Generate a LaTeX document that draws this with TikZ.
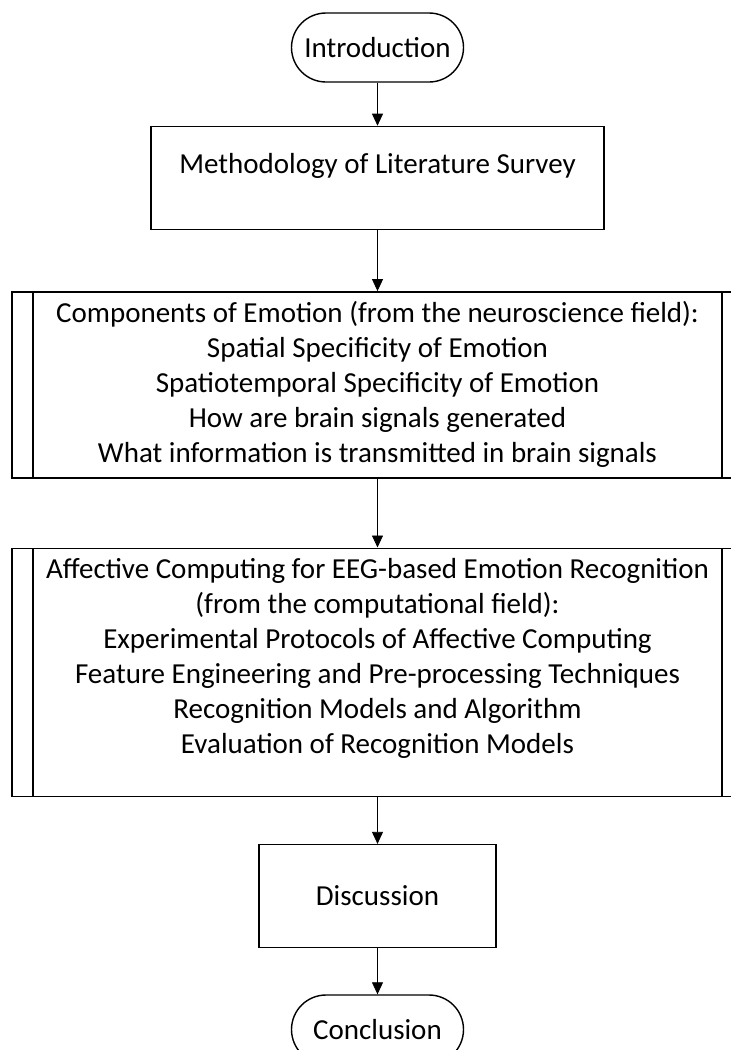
\documentclass[tikz,border=0pt]{standalone}
\usepackage{fontspec}
\setmainfont{Carlito}
\usepackage{tikz}
\usetikzlibrary{arrows.meta,positioning}
\tikzset{
    -{Triangle[width=11pt,length=12pt]},auto,node distance =45pt and 1cm,
    term/.style ={rectangle, draw, line width=1.4pt, rounded corners=34.5pt, minimum width=172pt, minimum height=69pt},
    proc/.style ={rectangle, draw, line width=1.4pt, align=center},
    predef/.style ={proc, minimum width=731pt, inner sep=0pt,
        path picture={
            \draw[-, line width=1.2pt] ([xshift=21pt]path picture bounding box.north west) -- ([xshift=21pt]path picture bounding box.south west);
            \draw[-, line width=1.2pt] ([xshift=-21pt]path picture bounding box.north east) -- ([xshift=-21pt]path picture bounding box.south east);
        }},
    flow/.style = {line width=0.8pt}
}

\begin{document}
\begin{tikzpicture}[font=\fontsize{29}{35}\selectfont]
    \useasboundingbox (0,0) rectangle (731pt,-1050pt);
    \clip (0,0) rectangle (731pt,-1050pt);

    %%Nodes
    \node[term] (intro) at (377.5pt,-47.5pt) {Introduction};
    \node[proc, minimum width=453pt, minimum height=103pt, text depth=28pt] (meth) [below =43pt of intro] {Methodology of Literature Survey};
    \node[predef, minimum height=186pt] (comp) [below =61pt of meth] {Components of Emotion (from the neuroscience field):\\
        Spatial Specificity of Emotion\\
        Spatiotemporal Specificity of Emotion\\
        How are brain signals generated\\
        What information is transmitted in brain signals};
    \node[predef, minimum height=248pt, text depth=32pt] (affect) [below =69pt of comp] {Affective Computing for EEG-based Emotion Recognition\\
        (from the computational field):\\
        Experimental Protocols of Affective Computing\\
        Feature Engineering and Pre-processing Techniques\\
        Recognition Models and Algorithm\\
        Evaluation of Recognition Models};
    \node[proc, minimum width=237pt, minimum height=103pt] (disc) [below =47pt of affect] {Discussion};
    \node[term] (concl) [below =46pt of disc] {Conclusion};

    % Directed edge
    \path (intro) edge[flow] (meth);
    \path (meth) edge[flow] (comp);
    \path (comp) edge[flow] (affect);
    \path (affect) edge[flow] (disc);
    \path (disc) edge[flow] (concl);
\end{tikzpicture}
\end{document}
